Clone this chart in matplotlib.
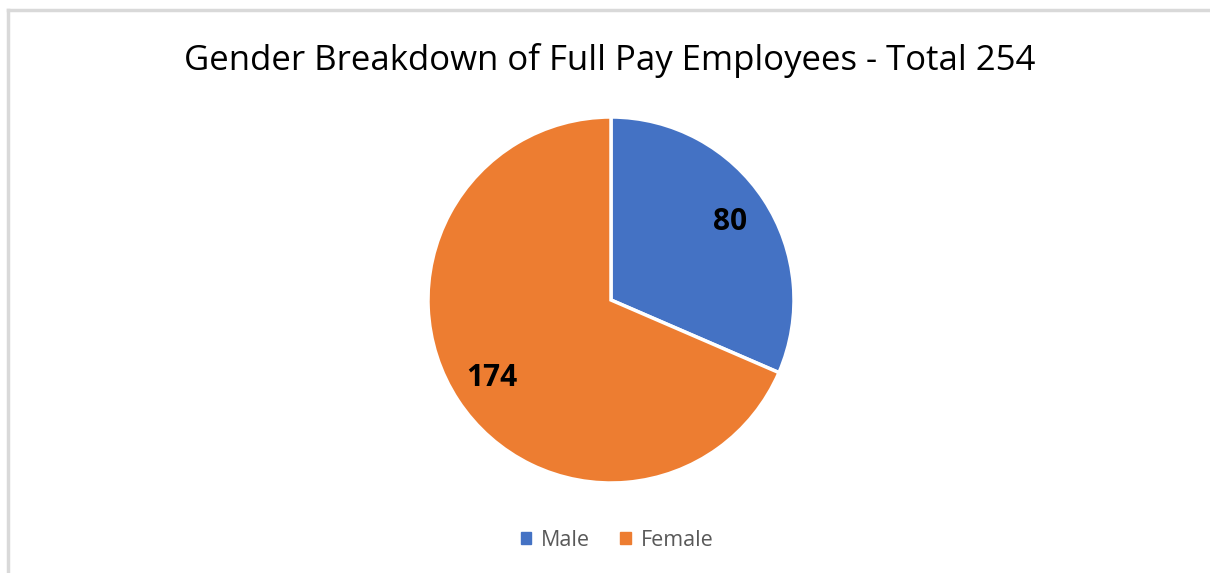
import matplotlib.pyplot as plt
from matplotlib.lines import Line2D
from matplotlib.patches import Patch

labels = ["Male", "Female"]
counts = [80, 174]
colours = ["#4472C4", "#ED7D31"]
title = "Gender Breakdown of Full Pay Employees - Total 254"

plt.rcParams['font.family'] = ['Open Sans', 'DejaVu Sans']

fig = plt.figure(figsize=(12.1, 5.73), dpi=100)
fig.patch.set_facecolor("white")

# light grey frame lines on the left and top, like the pasted chart
fig.add_artist(Line2D([8 / 1210, 8 / 1210], [0, 1 - 10 / 573], color="#D9D9D9", lw=2.5))
fig.add_artist(Line2D([8 / 1210, 1], [1 - 10 / 573, 1 - 10 / 573], color="#D9D9D9", lw=2.5))

fig.text(610 / 1210, 1 - 61 / 573, title, ha="center", va="center", fontsize=25, color="#000000")

ax = fig.add_axes([428 / 1210, 90 / 573, 366 / 1210, 366 / 573])
wedges, texts, autotexts = ax.pie(
    counts, colors=colours, startangle=90, counterclock=False,
    autopct=lambda p: f"{round(p * sum(counts) / 100)}", pctdistance=0.78,
    wedgeprops=dict(edgecolor="white", linewidth=2.5),
    textprops=dict(fontsize=21.5, fontweight="bold", color="black"))
ax.set_xlim(-1, 1)
ax.set_ylim(-1, 1)
ax.set_aspect("equal")

handles = [Patch(facecolor=c, edgecolor=c, label=l) for c, l in zip(colours, labels)]
fig.legend(handles=handles, loc="center", bbox_to_anchor=(617 / 1210, 1 - 540 / 573),
           ncol=2, frameon=False, fontsize=15.5, handlelength=0.5, handleheight=0.5,
           handletextpad=0.45, columnspacing=1.4, labelcolor="#595959")

fig.savefig("out.png", dpi=100)
